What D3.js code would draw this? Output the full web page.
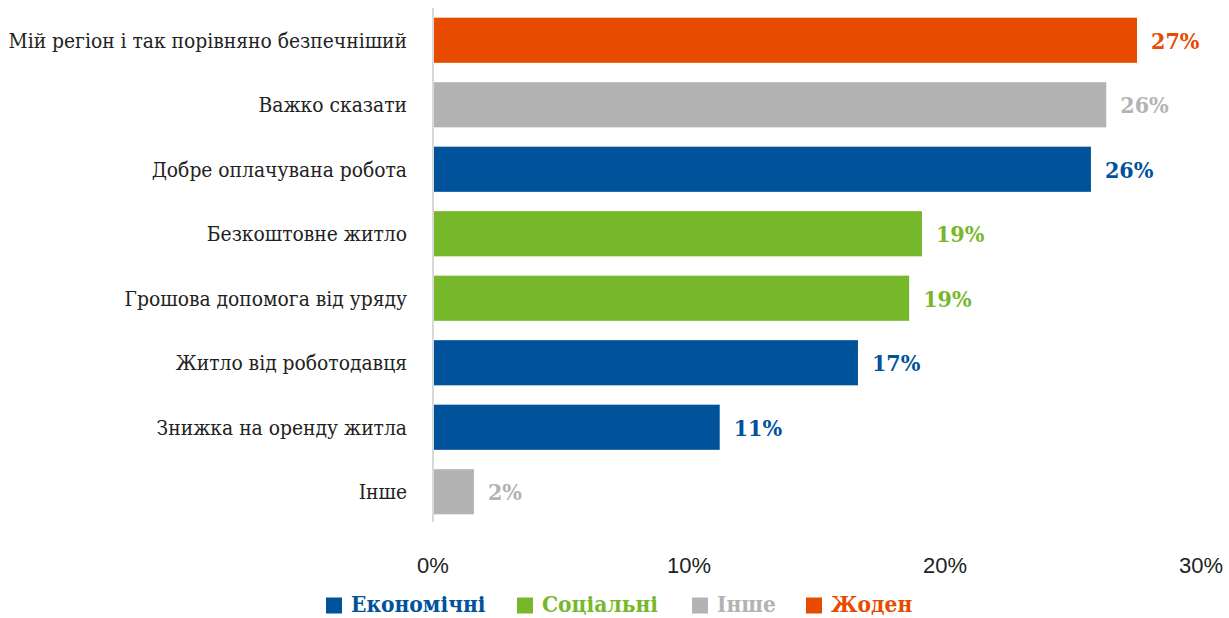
<!DOCTYPE html>
<html><head><meta charset="utf-8">
<script src="https://cdn.jsdelivr.net/npm/d3@7"></script>
<style>body{margin:0;background:#fff}svg{display:block}</style>
</head><body>
<svg id="c" width="1229" height="618"></svg>
<script>
const categories = ["Мій регіон і так порівняно безпечніший","Важко сказати","Добре оплачувана робота","Безкоштовне житло","Грошова допомога від уряду","Житло від роботодавця","Знижка на оренду житла","Інше"];
const values = [27.5, 26.3, 25.7, 19.1, 18.6, 16.6, 11.2, 1.6];
const valueLabels = ["27%","26%","26%","19%","19%","17%","11%","2%"];
const groups = ["Жоден","Інше","Економічні","Соціальні","Соціальні","Економічні","Економічні","Інше"];
const legendNames = ["Економічні","Соціальні","Інше","Жоден"];
const legendColors = ["#00529b","#76b82a","#b3b3b3","#e64b00"];
const ticks = [0,10,20,30];

const svg = d3.select("#c");
const color = d3.scaleOrdinal().domain(legendNames).range(legendColors);
const x = d3.scaleLinear().domain([0,30]).range([433,1201]);
const y = d3.scaleBand().domain(categories).range([8,524]).paddingInner(0.3).paddingOuter(0.15);

svg.append("line").attr("x1",x(0)).attr("x2",x(0)).attr("y1",8).attr("y2",522)
  .attr("stroke","#d9d9d9").attr("stroke-width",2);

svg.selectAll("rect.bar").data(categories).join("rect").attr("class","bar")
  .attr("x",x(0)+1).attr("y",d=>y(d)).attr("height",y.bandwidth())
  .attr("width",(d,i)=>x(values[i])-x(0)-1).attr("fill",(d,i)=>color(groups[i]));

svg.selectAll("text.val").data(categories).join("text").attr("class","val")
  .attr("x",(d,i)=>x(values[i])+14).attr("y",d=>y(d)+y.bandwidth()/2).attr("dy","0.36em")
  .attr("font-family","'DejaVu Serif'").attr("font-stretch","condensed").attr("font-weight","bold").attr("font-size",23)
  .attr("fill",(d,i)=>color(groups[i])).text((d,i)=>valueLabels[i]);

svg.selectAll("text.cat").data(categories).join("text").attr("class","cat")
  .attr("x",407).attr("y",d=>y(d)+y.bandwidth()/2).attr("dy","0.35em").attr("text-anchor","end")
  .attr("font-family","'DejaVu Serif'").attr("font-stretch","condensed").attr("font-size",20.8).attr("fill","#222").text(d=>d);

svg.selectAll("text.tick").data(ticks).join("text").attr("class","tick")
  .attr("x",d=>x(d)).attr("y",565).attr("dy","0.35em").attr("text-anchor","middle")
  .attr("font-family","'Liberation Sans'").attr("font-size",22).attr("fill","#222").text(d=>d+"%");

const legX = [326,517,692,806];
const lg = svg.selectAll("g.leg").data(legendNames).join("g").attr("class","leg")
  .attr("transform",(d,i)=>`translate(${legX[i]},0)`);
lg.append("rect").attr("x",0).attr("y",597.5).attr("width",16).attr("height",16).attr("fill",d=>color(d));
lg.append("text").attr("x",25).attr("y",612)
  .attr("font-family","'DejaVu Serif'").attr("font-stretch","condensed").attr("font-weight","bold")
  .attr("font-size",22.5).attr("fill",d=>color(d)).text(d=>d);
</script>
</body></html>
